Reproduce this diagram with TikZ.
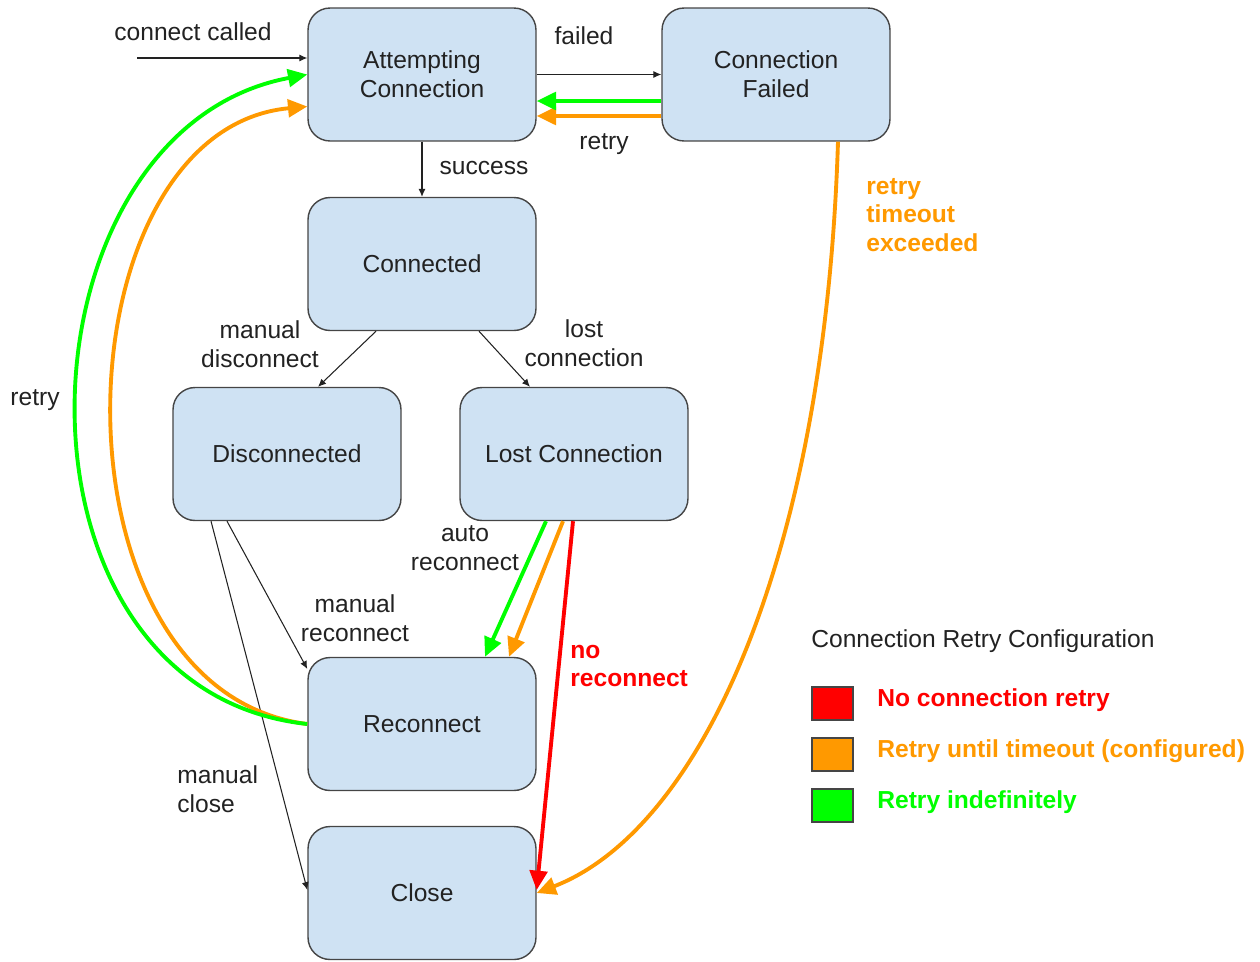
\documentclass[tikz,border=0pt]{standalone}
\usepackage{fontspec}
\setmainfont{Liberation Sans}
\usetikzlibrary{arrows.meta}
\definecolor{boxblue}{HTML}{CFE2F3}
\definecolor{boxline}{HTML}{454545}
\definecolor{ink}{HTML}{222222}
\definecolor{retrygreen}{HTML}{00FF00}
\definecolor{retryorange}{HTML}{FF9900}
\definecolor{retryred}{HTML}{FF0000}

\begin{document}
\begin{tikzpicture}[x=0.02cm,y=-0.02cm,
    every node/.style={font=\fontsize{14}{16.4}\selectfont,text=ink},
    state/.style={
      draw=boxline,line width=0.8pt,fill=boxblue,rounded corners=0.44cm,
      minimum width=4.56cm,minimum height=2.66cm,inner sep=0pt,align=center
    },
    trans/.style={draw=ink,line width=0.6pt,-{Latex[length=4.5pt,width=4pt]}},
    retry/.style={line width=2.2pt,-{Triangle[length=11pt,width=10pt]}},
    lbl/.style={align=center,inner sep=0pt},
    hot/.style={font=\fontsize{14}{16.4}\selectfont\bfseries},
    key/.style={draw=boxline,line width=0.8pt,minimum width=0.82cm,minimum height=0.66cm,inner sep=0pt}
  ]
  \useasboundingbox (0,0) rectangle (1260,961);
  \node [state] (att) at (422,74.5) {Attempting\\Connection};
  \node [state] (cf) at (776,74.5) {Connection\\Failed};
  \node [state] (con) at (422,264) {Connected};
  \node [state] (disc) at (287,454) {Disconnected};
  \node [state] (lost) at (574,454) {Lost Connection};
  \node [state] (rec) at (422,724) {Reconnect};
  \node [state] (close) at (422,893) {Close};
  \coordinate (cc) at (137,58);
  \draw [trans] (cc) -- (cc -| att.west);
  \draw [trans] (att.east) -- (cf.west);
  \draw [retry,retryorange] ([yshift=-0.83cm]cf.west) -- ([yshift=-0.83cm]att.east);
  \draw [retry,retrygreen] ([yshift=-0.53cm]cf.west) -- ([yshift=-0.53cm]att.east);
  \draw [trans] (att.south) -- (con.north);
  \draw [trans] ([xshift=-0.92cm]con.south) -- ([xshift=0.62cm]disc.north);
  \draw [trans] ([xshift=1.14cm]con.south) -- ([xshift=-0.88cm]lost.north);
  \draw [trans] ([xshift=-1.2cm]disc.south) -- ([yshift=1.1cm]rec.west);
  \draw [trans] ([xshift=-1.52cm]disc.south) -- ([yshift=0.06cm]close.west);
  \draw [retry,retrygreen] ([xshift=-0.56cm]lost.south) -- ([xshift=1.26cm]rec.north);
  \draw [retry,retryorange] ([xshift=-0.22cm]lost.south) -- ([xshift=1.74cm]rec.north);
  \draw [retry,retryred] ([xshift=-0.02cm]lost.south) -- ([yshift=0.06cm]close.east);
  \draw [retry,retryorange] ([xshift=1.24cm]cf.south) .. controls (825,560) and (700,830) .. (close.east);
  \draw [retry,retryorange] (rec.west) .. controls (40,690) and (55,130) .. ([yshift=-0.64cm]att.west);
  \draw [retry,retrygreen] (rec.west) .. controls (-10,690) and (10,130) .. (att.west);
  \node [lbl] (lcc) at (193,32) {connect called};
  \node [lbl] (lfail) at (584,36) {failed};
  \node [lbl] (lretry) at (604,144) {retry};
  \node [lbl] (lsucc) at (484,168) {success};
  \node [lbl] (lmd) at (260,344) {manual\\disconnect};
  \node [lbl] (llc) at (584,343) {lost\\connection};
  \node [lbl] (lback) at (35,400) {retry};
  \node [lbl] (lauto) at (465,548) {auto\\reconnect};
  \node [lbl] (lmr) at (355,618) {manual\\reconnect};
  \node [lbl,align=left,anchor=west] (lmc) at (177,789) {manual\\close};
  \node [lbl,hot,align=left,anchor=west,text=retryred] (lno) at (570,666) {no\\reconnect};
  \node [lbl,hot,align=left,anchor=west,text=retryorange] (lto) at (866,215) {retry\\timeout\\exceeded};
  \node [lbl,anchor=west] (ltitle) at (811,641) {Connection Retry Configuration};
  \node [key,fill=retryred] (kred) at (832.5,703.5) {};
  \node [key,fill=retryorange] (korange) at (832.5,754.5) {};
  \node [key,fill=retrygreen] (kgreen) at (832.5,805.5) {};
  \node [lbl,hot,anchor=west,text=retryred] (tred) at (877,700) {No connection retry};
  \node [lbl,hot,anchor=west,text=retryorange] (torange) at (877,751) {Retry until timeout (configured)};
  \node [lbl,hot,anchor=west,text=retrygreen] (tgreen) at (877,802) {Retry indefinitely};
\end{tikzpicture}
\end{document}
